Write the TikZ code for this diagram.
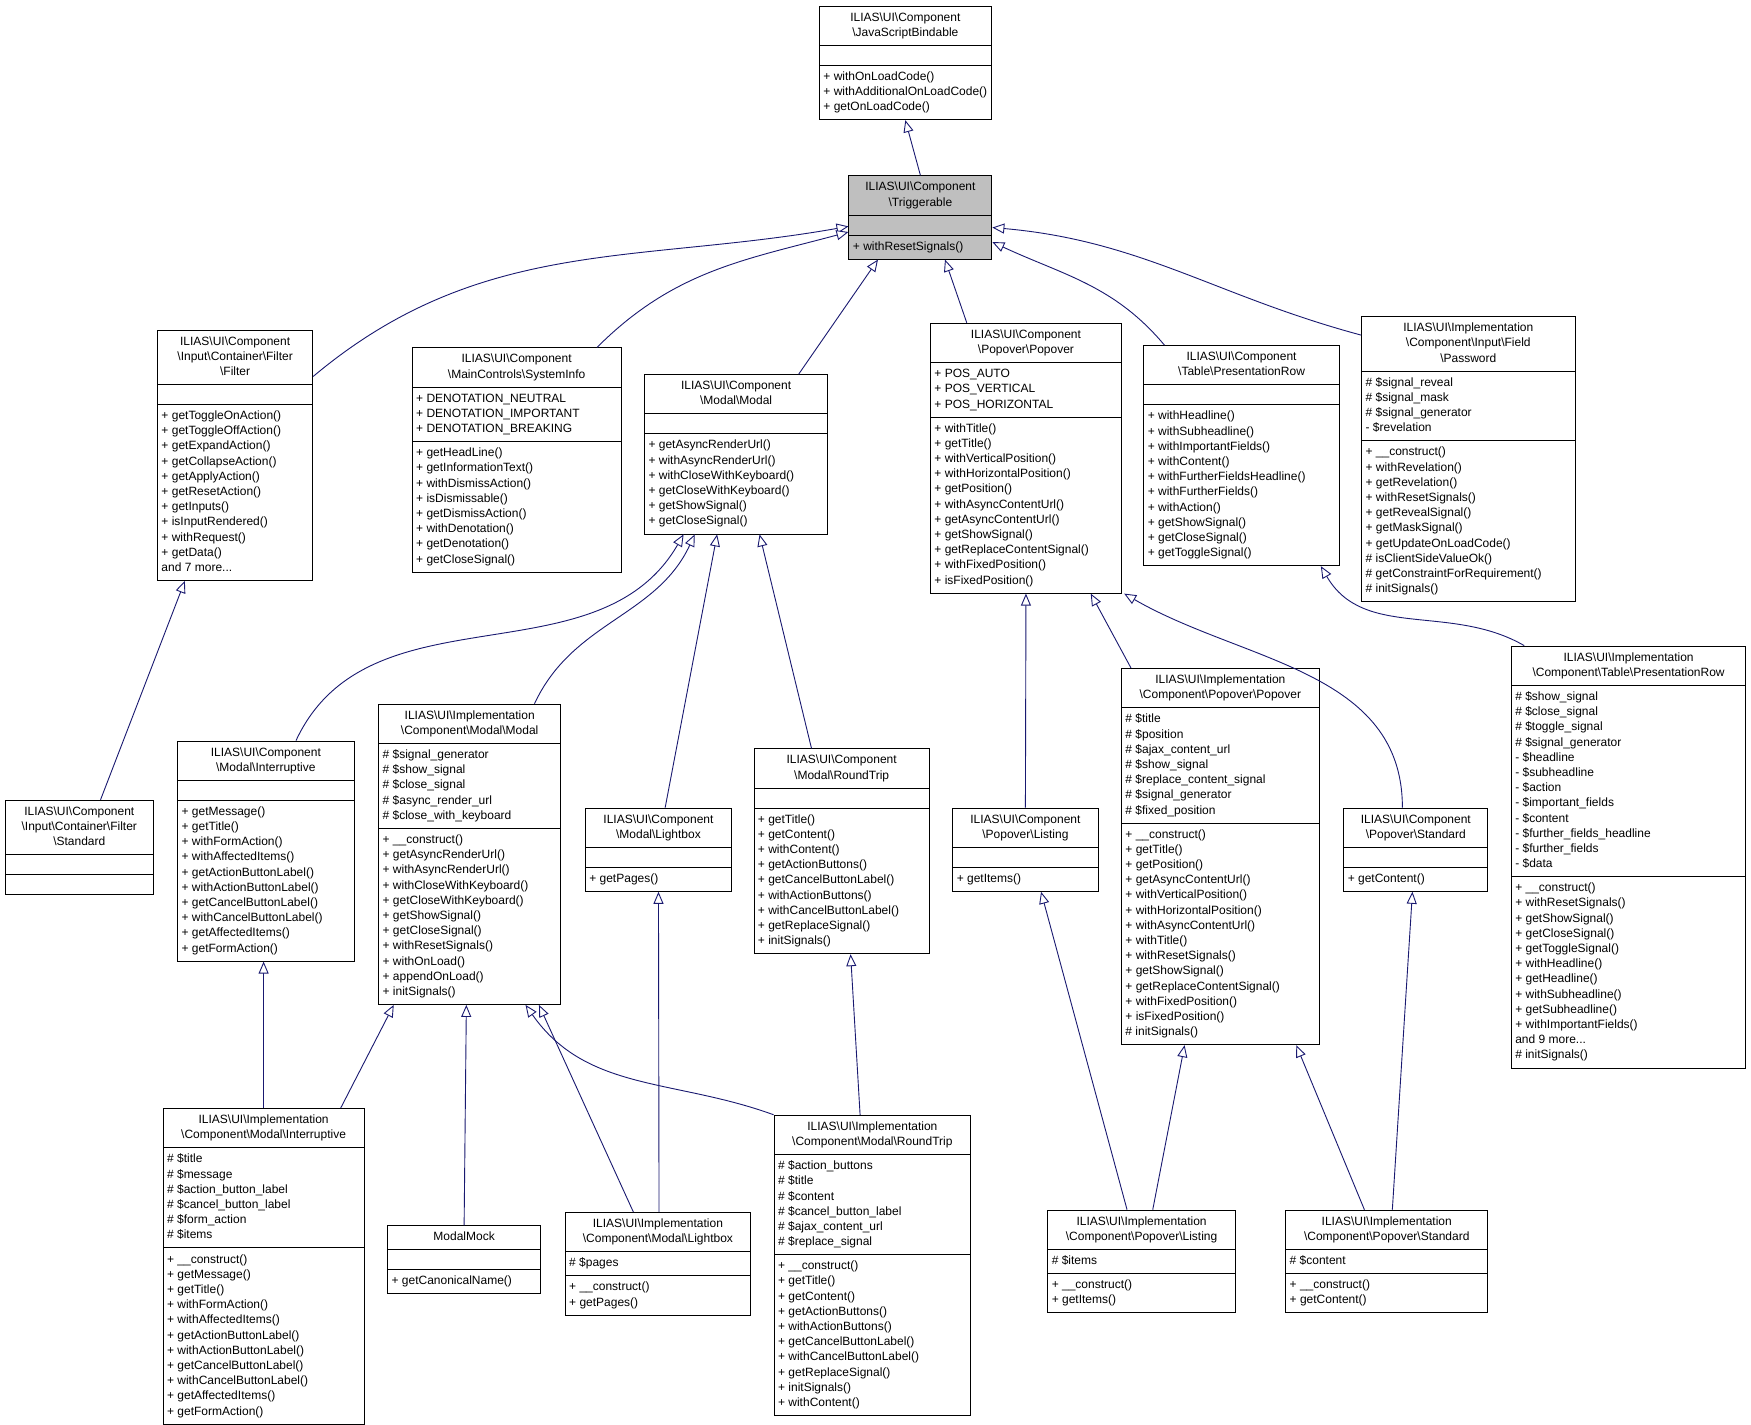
\documentclass[tikz,border=0pt]{standalone}
\usepackage{fontspec}
\setmainfont{Liberation Sans}
\usetikzlibrary{shapes.multipart,arrows.meta,calc}
\definecolor{edgec}{HTML}{191970}
\newcommand\bs{\textbackslash}
\newcommand\T[1]{\begin{tabular}{@{}c@{}}#1\end{tabular}}
\newcommand\Lt[1]{\begin{tabular}{@{}l@{}}#1\end{tabular}}
\begin{document}
\begin{tikzpicture}[x=1.117pt,y=-1.117pt,
 uml/.style={draw=black,line width=0.9pt,fill=white,rectangle split,rectangle split parts=3,
   rectangle split part align={center,left,left},rectangle split empty part height=11pt,
   inner xsep=4pt,inner ysep=4pt,anchor=north,font=\fontsize{12}{15.2}\selectfont,minimum width=#1*1.117pt},
 inh/.style={draw=edgec,line width=0.9pt,-{Triangle[width=10pt,length=12pt,fill=white]}}]
\useasboundingbox[fill=white] (0,0) rectangle (1567.6,1275.7);
\node[uml=149] (jsb) at (810.5,5) {\T{ILIAS\bs{}UI\bs{}Component\\\bs{}JavaScriptBindable}\nodepart{two}\nodepart{three}\Lt{+ withOnLoadCode()\\+ withAdditionalOnLoadCode()\\+ getOnLoadCode()}};
\node[uml=128,fill=black!25] (trig) at (824,157) {\T{ILIAS\bs{}UI\bs{}Component\\\bs{}Triggerable}\nodepart{two}\nodepart{three}\Lt{+ withResetSignals()}};
\node[uml=139] (filter) at (210.5,295) {\T{ILIAS\bs{}UI\bs{}Component\\\bs{}Input\bs{}Container\bs{}Filter\\\bs{}Filter}\nodepart{two}\nodepart{three}\Lt{+ getToggleOnAction()\\+ getToggleOffAction()\\+ getExpandAction()\\+ getCollapseAction()\\+ getApplyAction()\\+ getResetAction()\\+ getInputs()\\+ isInputRendered()\\+ withRequest()\\+ getData()\\and 7 more...}};
\node[uml=187] (sysinfo) at (462.5,311) {\T{ILIAS\bs{}UI\bs{}Component\\\bs{}MainControls\bs{}SystemInfo}\nodepart{two}\Lt{+ DENOTATION\_NEUTRAL\\+ DENOTATION\_IMPORTANT\\+ DENOTATION\_BREAKING}\nodepart{three}\Lt{+ getHeadLine()\\+ getInformationText()\\+ withDismissAction()\\+ isDismissable()\\+ getDismissAction()\\+ withDenotation()\\+ getDenotation()\\+ getCloseSignal()}};
\node[uml=164] (modal) at (659,335) {\T{ILIAS\bs{}UI\bs{}Component\\\bs{}Modal\bs{}Modal}\nodepart{two}\nodepart{three}\Lt{+ getAsyncRenderUrl()\\+ withAsyncRenderUrl()\\+ withCloseWithKeyboard()\\+ getCloseWithKeyboard()\\+ getShowSignal()\\+ getCloseSignal()}};
\node[uml=171] (popover) at (918.5,289) {\T{ILIAS\bs{}UI\bs{}Component\\\bs{}Popover\bs{}Popover}\nodepart{two}\Lt{+ POS\_AUTO\\+ POS\_VERTICAL\\+ POS\_HORIZONTAL}\nodepart{three}\Lt{+ withTitle()\\+ getTitle()\\+ withVerticalPosition()\\+ withHorizontalPosition()\\+ getPosition()\\+ withAsyncContentUrl()\\+ getAsyncContentUrl()\\+ getShowSignal()\\+ getReplaceContentSignal()\\+ withFixedPosition()\\+ isFixedPosition()}};
\node[uml=175] (prow) at (1111.5,309) {\T{ILIAS\bs{}UI\bs{}Component\\\bs{}Table\bs{}PresentationRow}\nodepart{two}\nodepart{three}\Lt{+ withHeadline()\\+ withSubheadline()\\+ withImportantFields()\\+ withContent()\\+ withFurtherFieldsHeadline()\\+ withFurtherFields()\\+ withAction()\\+ getShowSignal()\\+ getCloseSignal()\\+ getToggleSignal()}};
\node[uml=191] (password) at (1314.5,283) {\T{ILIAS\bs{}UI\bs{}Implementation\\\bs{}Component\bs{}Input\bs{}Field\\\bs{}Password}\nodepart{two}\Lt{\# \$signal\_reveal\\\# \$signal\_mask\\\# \$signal\_generator\\- \$revelation}\nodepart{three}\Lt{+ \_\_construct()\\+ withRevelation()\\+ getRevelation()\\+ withResetSignals()\\+ getRevealSignal()\\+ getMaskSignal()\\+ getUpdateOnLoadCode()\\\# isClientSideValueOk()\\\# getConstraintForRequirement()\\\# initSignals()}};
\node[uml=132] (fstd) at (71,716) {\T{ILIAS\bs{}UI\bs{}Component\\\bs{}Input\bs{}Container\bs{}Filter\\\bs{}Standard}\nodepart{two}\nodepart{three}};
\node[uml=158] (intr) at (238,663) {\T{ILIAS\bs{}UI\bs{}Component\\\bs{}Modal\bs{}Interruptive}\nodepart{two}\nodepart{three}\Lt{+ getMessage()\\+ getTitle()\\+ withFormAction()\\+ withAffectedItems()\\+ getActionButtonLabel()\\+ withActionButtonLabel()\\+ getCancelButtonLabel()\\+ withCancelButtonLabel()\\+ getAffectedItems()\\+ getFormAction()}};
\node[uml=163] (imodal) at (420.5,630) {\T{ILIAS\bs{}UI\bs{}Implementation\\\bs{}Component\bs{}Modal\bs{}Modal}\nodepart{two}\Lt{\# \$signal\_generator\\\# \$show\_signal\\\# \$close\_signal\\\# \$async\_render\_url\\\# \$close\_with\_keyboard}\nodepart{three}\Lt{+ \_\_construct()\\+ getAsyncRenderUrl()\\+ withAsyncRenderUrl()\\+ withCloseWithKeyboard()\\+ getCloseWithKeyboard()\\+ getShowSignal()\\+ getCloseSignal()\\+ withResetSignals()\\+ withOnLoad()\\+ appendOnLoad()\\+ initSignals()}};
\node[uml=131] (lightbox) at (589.5,723) {\T{ILIAS\bs{}UI\bs{}Component\\\bs{}Modal\bs{}Lightbox}\nodepart{two}\nodepart{three}\Lt{+ getPages()}};
\node[uml=157] (roundtrip) at (753.5,670) {\T{ILIAS\bs{}UI\bs{}Component\\\bs{}Modal\bs{}RoundTrip}\nodepart{two}\nodepart{three}\Lt{+ getTitle()\\+ getContent()\\+ withContent()\\+ getActionButtons()\\+ getCancelButtonLabel()\\+ withActionButtons()\\+ withCancelButtonLabel()\\+ getReplaceSignal()\\+ initSignals()}};
\node[uml=130] (listing) at (918,723) {\T{ILIAS\bs{}UI\bs{}Component\\\bs{}Popover\bs{}Listing}\nodepart{two}\nodepart{three}\Lt{+ getItems()}};
\node[uml=177] (ipopover) at (1092.5,598) {\T{ILIAS\bs{}UI\bs{}Implementation\\\bs{}Component\bs{}Popover\bs{}Popover}\nodepart{two}\Lt{\# \$title\\\# \$position\\\# \$ajax\_content\_url\\\# \$show\_signal\\\# \$replace\_content\_signal\\\# \$signal\_generator\\\# \$fixed\_position}\nodepart{three}\Lt{+ \_\_construct()\\+ getTitle()\\+ getPosition()\\+ getAsyncContentUrl()\\+ withVerticalPosition()\\+ withHorizontalPosition()\\+ withAsyncContentUrl()\\+ withTitle()\\+ withResetSignals()\\+ getShowSignal()\\+ getReplaceContentSignal()\\+ withFixedPosition()\\+ isFixedPosition()\\\# initSignals()}};
\node[uml=129] (pstd) at (1267.5,723) {\T{ILIAS\bs{}UI\bs{}Component\\\bs{}Popover\bs{}Standard}\nodepart{two}\nodepart{three}\Lt{+ getContent()}};
\node[uml=210] (iprow) at (1458,578) {\T{ILIAS\bs{}UI\bs{}Implementation\\\bs{}Component\bs{}Table\bs{}PresentationRow}\nodepart{two}\Lt{\# \$show\_signal\\\# \$close\_signal\\\# \$toggle\_signal\\\# \$signal\_generator\\- \$headline\\- \$subheadline\\- \$action\\- \$important\_fields\\- \$content\\- \$further\_fields\_headline\\- \$further\_fields\\- \$data}\nodepart{three}\Lt{+ \_\_construct()\\+ withResetSignals()\\+ getShowSignal()\\+ getCloseSignal()\\+ getToggleSignal()\\+ withHeadline()\\+ getHeadline()\\+ withSubheadline()\\+ getSubheadline()\\+ withImportantFields()\\and 9 more...\\\# initSignals()}};
\node[uml=180] (iintr) at (236,992) {\T{ILIAS\bs{}UI\bs{}Implementation\\\bs{}Component\bs{}Modal\bs{}Interruptive}\nodepart{two}\Lt{\# \$title\\\# \$message\\\# \$action\_button\_label\\\# \$cancel\_button\_label\\\# \$form\_action\\\# \$items}\nodepart{three}\Lt{+ \_\_construct()\\+ getMessage()\\+ getTitle()\\+ withFormAction()\\+ withAffectedItems()\\+ getActionButtonLabel()\\+ withActionButtonLabel()\\+ getCancelButtonLabel()\\+ withCancelButtonLabel()\\+ getAffectedItems()\\+ getFormAction()}};
\node[uml=137] (mock) at (415.5,1097) {\T{ModalMock}\nodepart{two}\nodepart{three}\Lt{+ getCanonicalName()}};
\node[uml=166] (ilight) at (589,1085) {\T{ILIAS\bs{}UI\bs{}Implementation\\\bs{}Component\bs{}Modal\bs{}Lightbox}\nodepart{two}\Lt{\# \$pages}\nodepart{three}\Lt{+ \_\_construct()\\+ getPages()}};
\node[uml=176] (iround) at (781,998) {\T{ILIAS\bs{}UI\bs{}Implementation\\\bs{}Component\bs{}Modal\bs{}RoundTrip}\nodepart{two}\Lt{\# \$action\_buttons\\\# \$title\\\# \$content\\\# \$cancel\_button\_label\\\# \$ajax\_content\_url\\\# \$replace\_signal}\nodepart{three}\Lt{+ \_\_construct()\\+ getTitle()\\+ getContent()\\+ getActionButtons()\\+ withActionButtons()\\+ getCancelButtonLabel()\\+ withCancelButtonLabel()\\+ getReplaceSignal()\\+ initSignals()\\+ withContent()}};
\node[uml=168] (ilist) at (1022,1083) {\T{ILIAS\bs{}UI\bs{}Implementation\\\bs{}Component\bs{}Popover\bs{}Listing}\nodepart{two}\Lt{\# \$items}\nodepart{three}\Lt{+ \_\_construct()\\+ getItems()}};
\node[uml=181] (istd) at (1241.5,1083) {\T{ILIAS\bs{}UI\bs{}Implementation\\\bs{}Component\bs{}Popover\bs{}Standard}\nodepart{two}\Lt{\# \$content}\nodepart{three}\Lt{+ \_\_construct()\\+ getContent()}};
% edges
\draw[inh] (trig.north) -- (jsb.south);
\draw[inh] ($(filter.north east)+(0,42)$) to[out=40,in=190] ($(trig.west)+(0,8)$);
\draw[inh] ($(sysinfo.north)+(72,0)$) to[out=45,in=195] ($(trig.west)+(0,13)$);
\draw[inh] ($(modal.north)+(56,0)$) -- ($(trig.south)+(-38,0)$);
\draw[inh] ($(popover.north)+(-53,0)$) -- ($(trig.south)+(22,0)$);
\draw[inh] ($(prow.north)+(-69,0)$) to[out=130,in=-25] ($(trig.east)+(0,22)$);
\draw[inh] ($(password.north west)+(0,17)$) to[out=165,in=-5] ($(trig.east)+(0,9)$);
\draw[inh] ($(intr.north)+(27,0)$) to[out=65,in=240] ($(modal.south)+(-47,0)$);
\draw[inh] ($(imodal.north)+(58,0)$) to[out=65,in=245] ($(modal.south)+(-37,0)$);
\draw[inh] ($(lightbox.north)+(6,0)$) -- ($(modal.south)+(-17,0)$);
\draw[inh] ($(roundtrip.north)+(-27,0)$) -- ($(modal.south)+(21,0)$);
\draw[inh] ($(fstd.north)+(19,0)$) -- ($(filter.south)+(-45,0)$);
\draw[inh] (iintr.north) -- ($(intr.south)+(-2,0)$);
\draw[inh] ($(iintr.north)+(69,0)$) -- ($(imodal.south)+(-68,0)$);
\draw[inh] (mock.north) -- ($(imodal.south)+(-3,0)$);
\draw[inh] ($(ilight.north)+(-22,0)$) -- ($(imodal.south)+(62,0)$);
\draw[inh] (iround.north west) to[out=160,in=-55] ($(imodal.south)+(50,0)$);
\draw[inh] ($(ilight.north)+(1,0)$) -- (lightbox.south);
\draw[inh] ($(iround.north)+(-11,0)$) -- ($(roundtrip.south)+(8,0)$);
\draw[inh] (listing.north) -- (popover.south);
\draw[inh] ($(ipopover.north)+(-80,0)$) -- ($(popover.south)+(58,0)$);
\draw[inh] ($(pstd.north)+(-12,0)$) to[out=90,in=-30] ($(popover.south east)+(2,0)$);
\draw[inh] ($(ilist.north)+(-13,0)$) -- ($(listing.south)+(14,0)$);
\draw[inh] ($(ilist.north)+(10,0)$) -- ($(ipopover.south)+(-32,0)$);
\draw[inh] ($(istd.north)+(-20,0)$) -- ($(ipopover.south)+(68,0)$);
\draw[inh] ($(istd.north)+(5,0)$) -- ($(pstd.south)+(-3,0)$);
\draw[inh] ($(iprow.north west)+(12,0)$) to[out=150,in=-60] ($(prow.south)+(71,0)$);
\end{tikzpicture}
\end{document}
